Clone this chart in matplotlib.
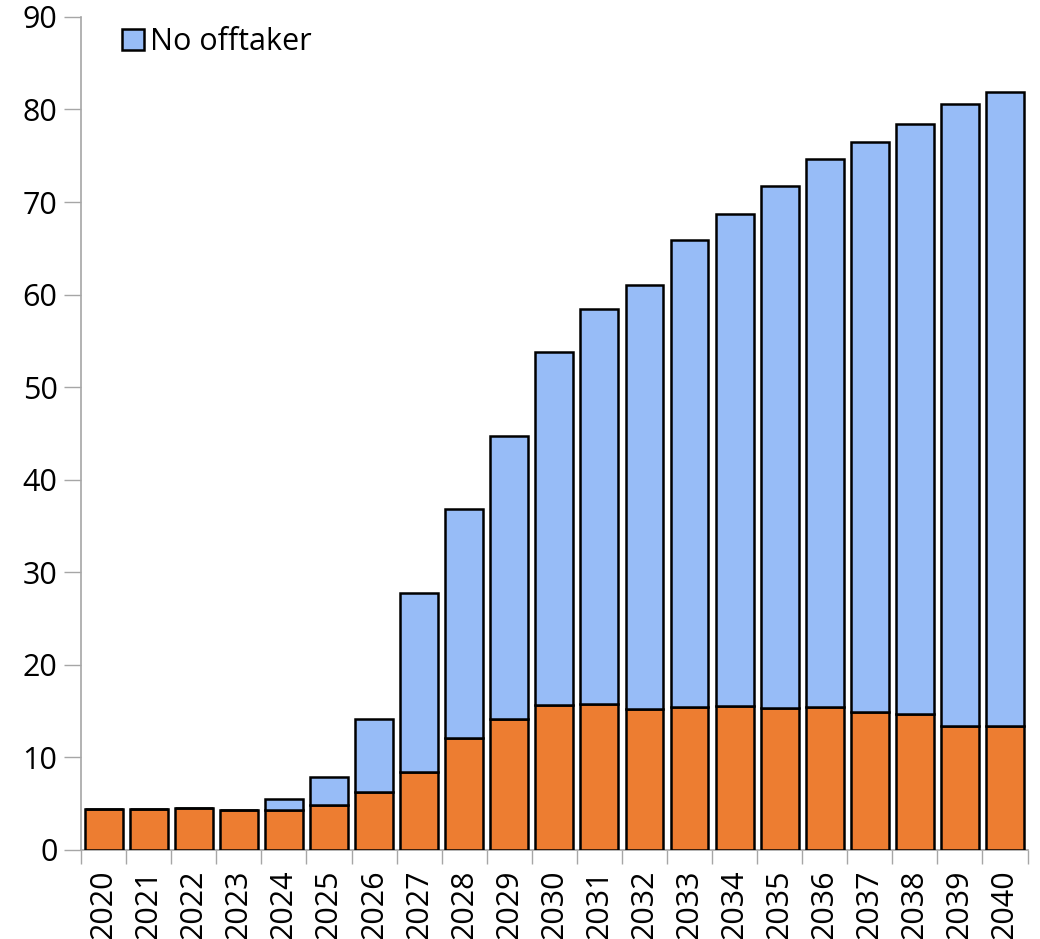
import matplotlib
matplotlib.use("Agg")
import matplotlib.pyplot as plt
import numpy as np

years = [str(y) for y in range(2020, 2041)]
with_offtaker = [4.4, 4.4, 4.55, 4.3, 4.3, 4.85, 6.25, 8.4, 12.1, 14.1, 15.7, 15.8,
                 15.2, 15.4, 15.55, 15.3, 15.4, 14.9, 14.65, 13.4, 13.4]
totals = [4.4, 4.4, 4.55, 4.3, 5.5, 7.9, 14.1, 27.75, 36.8, 44.7, 53.8, 58.4,
          61.0, 65.9, 68.7, 71.7, 74.7, 76.5, 78.4, 80.6, 81.9]
no_offtaker = [t - w for t, w in zip(totals, with_offtaker)]

plt.rcParams['font.family'] = ['Open Sans', 'DejaVu Sans']

fig = plt.figure(figsize=(10.4, 9.39), dpi=100)
ax = fig.add_axes([0.078, 0.0948, 0.910, 0.8872])

x = np.arange(len(years))
w = 0.84
ax.bar(x, with_offtaker, width=w, color='#ED7D31', edgecolor='black', linewidth=1.8, zorder=3)
ax.bar(x, no_offtaker, width=w, bottom=with_offtaker, color='#97BCF7', edgecolor='black',
       linewidth=1.8, label='No offtaker', zorder=3)

ax.set_xlim(-0.5, len(years) - 0.5)
ax.set_ylim(0, 90)
ax.set_yticks(np.arange(0, 91, 10))
ax.tick_params(axis='y', labelsize=22, length=12, width=1, color='#A6A6A6', pad=5)
ax.set_xticks(x)
ax.set_xticklabels(years, rotation=90, fontsize=22)
ax.tick_params(axis='x', which='major', length=0, pad=14)
ax.set_xticks(np.arange(-0.5, len(years), 1), minor=True)
ax.tick_params(axis='x', which='minor', length=10, width=1, color='#A6A6A6')

for s in ['top', 'right']:
    ax.spines[s].set_visible(False)
for s in ['left', 'bottom']:
    ax.spines[s].set_color('#A6A6A6')
    ax.spines[s].set_linewidth(1.2)

leg = ax.legend(loc='upper left', bbox_to_anchor=(0.024, 1.01), frameon=False, fontsize=22,
                handlelength=0.7, handleheight=0.7, handletextpad=0.2, borderaxespad=0.2)

fig.savefig('out.png', dpi=100)
